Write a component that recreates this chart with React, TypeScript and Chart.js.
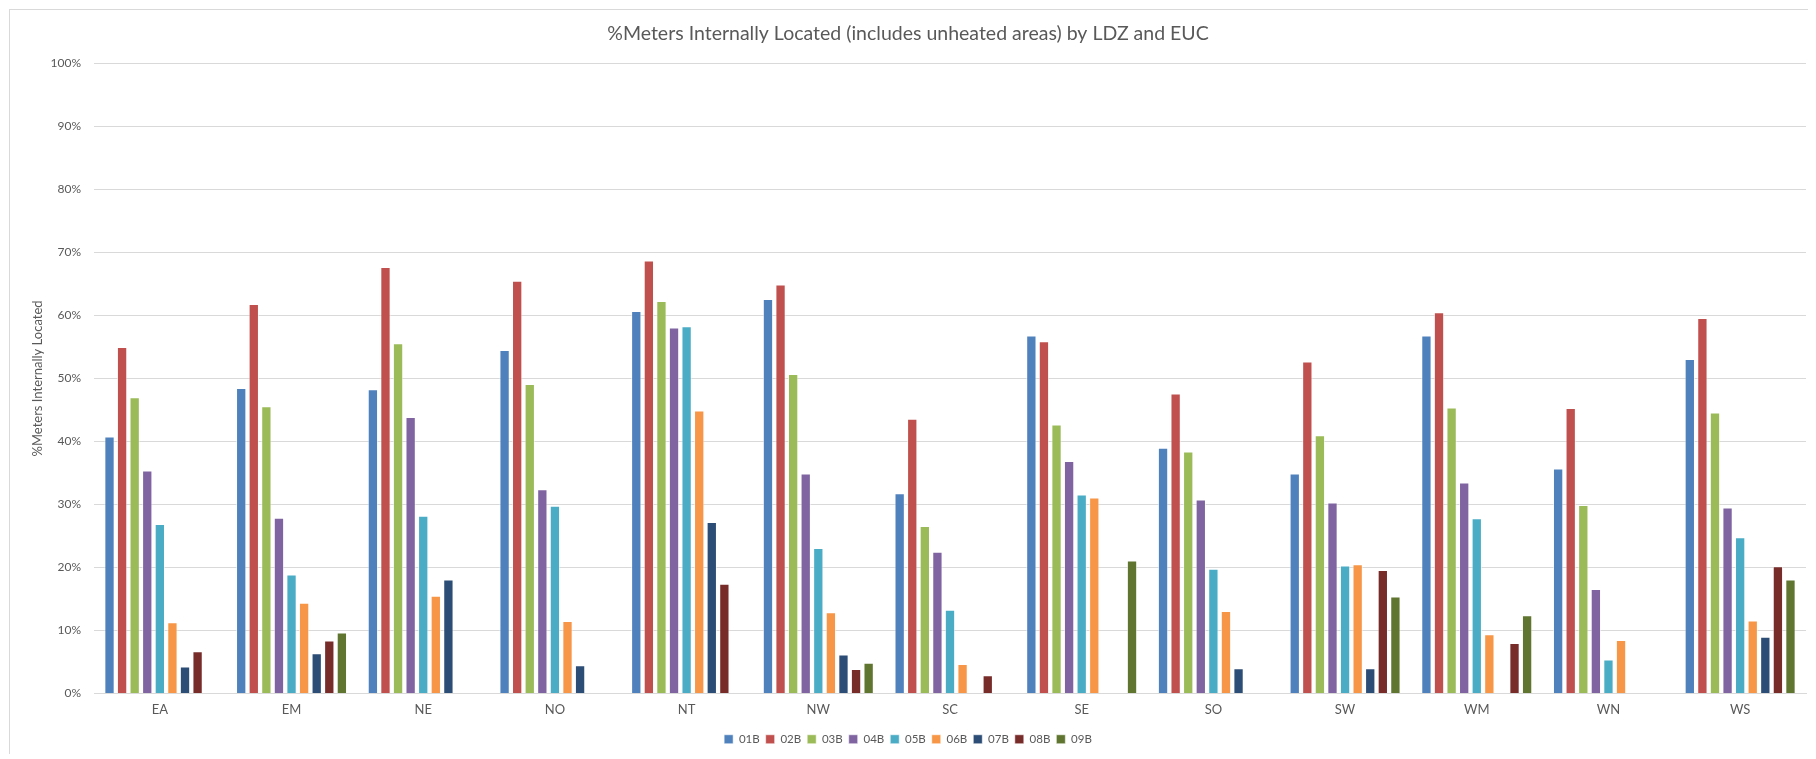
import React, { useEffect, useRef } from "react";
import { Chart, registerables } from "chart.js";

Chart.register(...registerables);

const categories = ["EA", "EM", "NE", "NO", "NT", "NW", "SC", "SE", "SO", "SW", "WM", "WN", "WS"];

const s01B = [40.8, 48.5, 48.3, 54.5, 60.7, 62.6, 31.8, 56.8, 39.0, 34.9, 56.8, 35.7, 53.1];
const s02B = [55.0, 61.8, 67.7, 65.5, 68.7, 64.9, 43.6, 55.9, 47.6, 52.7, 60.5, 45.3, 59.6];
const s03B = [47.0, 45.6, 55.6, 49.1, 62.3, 50.7, 26.6, 42.7, 38.4, 41.0, 45.4, 29.9, 44.6];
const s04B = [35.4, 27.9, 43.9, 32.4, 58.1, 34.9, 22.5, 36.9, 30.8, 30.3, 33.5, 16.6, 29.5];
const s05B = [26.9, 18.9, 28.2, 29.8, 58.3, 23.1, 13.3, 31.6, 19.8, 20.3, 27.8, 5.4, 24.8];
const s06B = [11.3, 14.4, 15.5, 11.5, 44.9, 12.9, 4.7, 31.1, 13.1, 20.5, 9.4, 8.5, 11.6];
const s07B = [4.3, 6.4, 18.1, 4.5, 27.2, 6.2, null, null, 4.0, 4.0, null, null, 9.0];
const s08B = [6.7, 8.4, null, null, 17.4, 3.9, 2.9, null, null, 19.6, 8.0, null, 20.2];
const s09B = [null, 9.7, null, null, null, 4.9, null, 21.1, null, 15.4, 12.4, null, 18.1];

const seriesNames = ["01B", "02B", "03B", "04B", "05B", "06B", "07B", "08B", "09B"];
const seriesValues = [s01B, s02B, s03B, s04B, s05B, s06B, s07B, s08B, s09B];
const seriesColors = ["#4F81BD", "#C0504D", "#9BBB59", "#8064A2", "#4BACC6", "#F79646", "#2C4D75", "#772C2A", "#5F7530"];

const yTicks = [0, 10, 20, 30, 40, 50, 60, 70, 80, 90, 100];

const titleText = "%Meters Internally Located (includes unheated areas) by LDZ and EUC";
const yTitleText = "%Meters Internally Located";

const FONT = "Lato, 'Open Sans', sans-serif";
const GREY = "#595959";

export default function App() {
  const canvasRef = useRef<HTMLCanvasElement | null>(null);

  useEffect(() => {
    if (!canvasRef.current) return;
    const chart = new Chart(canvasRef.current, {
      type: "bar",
      data: {
        labels: categories,
        datasets: seriesNames.map((name, i) => ({
          label: name,
          data: seriesValues[i],
          backgroundColor: seriesColors[i],
          borderColor: "rgba(255,255,255,0.55)",
          borderWidth: 1,
          categoryPercentage: 0.86,
          barPercentage: 0.82,
        })),
      },
      options: {
        animation: false,
        responsive: false,
        maintainAspectRatio: false,
        layout: { padding: { left: 0, right: 9, top: 0, bottom: 0 } },
        plugins: {
          title: {
            display: true,
            text: titleText,
            color: GREY,
            font: { family: FONT, size: 19.5, weight: "normal" },
            padding: { top: 12, bottom: 18 },
          },
          legend: {
            position: "bottom",
            labels: {
              boxWidth: 9,
              boxHeight: 9,
              padding: 6,
              color: GREY,
              font: { family: FONT, size: 11.5 },
            },
          },
          tooltip: { enabled: false },
        },
        scales: {
          x: {
            grid: { display: false, drawTicks: false },
            border: { display: true, color: "#d9d9d9", width: 1 },
            ticks: { color: GREY, font: { family: FONT, size: 13 }, padding: 9 },
            afterFit: (scale: any) => {
              scale.height = 34;
            },
          },
          y: {
            min: 0,
            max: 100,
            afterBuildTicks: (scale: any) => {
              scale.ticks = yTicks.map((v) => ({ value: v }));
            },
            grid: { color: "#d9d9d9", lineWidth: 1, drawTicks: false },
            border: { display: false },
            ticks: {
              color: GREY,
              font: { family: FONT, size: 12 },
              padding: 13,
              callback: (v: any) => `${v}%`,
            },
            title: {
              display: true,
              text: yTitleText,
              color: GREY,
              font: { family: FONT, size: 13 },
              padding: { top: 20, bottom: 0 },
            },
            afterFit: (scale: any) => {
              scale.width = 84;
            },
          },
        },
      },
    });
    return () => chart.destroy();
  }, []);

  return (
    <div
      style={{
        position: "relative",
        top: 1,
        left: 1,
        width: 1805,
        height: 745,
        borderTop: "1px solid #d9d9d9",
        borderLeft: "1px solid #d9d9d9",
        background: "#fff",
      }}
    >
      <canvas ref={canvasRef} width={1805} height={745} style={{ display: "block" }} />
    </div>
  );
}
